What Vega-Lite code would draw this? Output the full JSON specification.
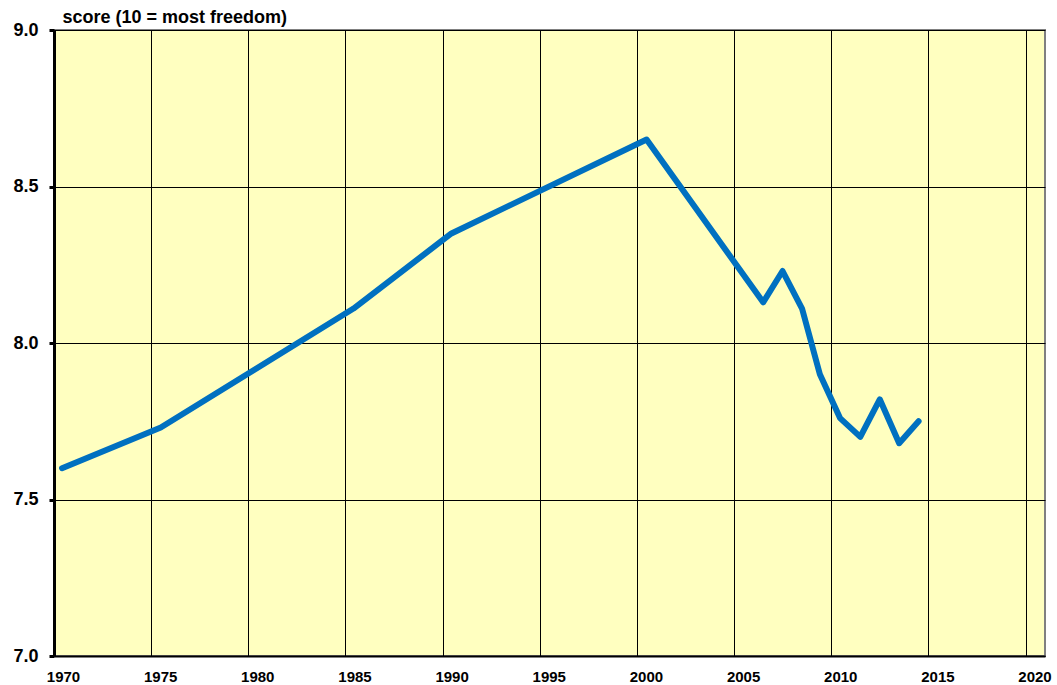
{
  "$schema": "https://vega.github.io/schema/vega-lite/v6.json",
  "width": 991,
  "height": 626,
  "autosize": {"type": "none"},
  "padding": {"left": 54, "top": 30, "right": 12, "bottom": 29},
  "background": "white",
  "config": {
    "view": {"fill": "#FFFFC0", "stroke": "#808080", "strokeWidth": 2},
    "font": "Liberation Sans"
  },
  "data": {
    "values": [
      {"date": "1970-06-01", "score": 7.60},
      {"date": "1975-07-01", "score": 7.73},
      {"date": "1985-06-01", "score": 8.11},
      {"date": "1990-06-15", "score": 8.35},
      {"date": "2000-07-01", "score": 8.65},
      {"date": "2006-07-01", "score": 8.13},
      {"date": "2007-07-01", "score": 8.23},
      {"date": "2008-07-01", "score": 8.11},
      {"date": "2009-06-01", "score": 7.90},
      {"date": "2010-06-15", "score": 7.76},
      {"date": "2011-07-01", "score": 7.70},
      {"date": "2012-07-01", "score": 7.82},
      {"date": "2013-07-01", "score": 7.68},
      {"date": "2014-07-01", "score": 7.75}
    ]
  },
  "mark": {"type": "line", "color": "#0070C0", "strokeWidth": 6, "strokeCap": "round", "strokeJoin": "round"},
  "encoding": {
    "x": {
      "field": "date",
      "type": "temporal",
      "scale": {"type": "utc", "domain": [{"year": 1970, "utc": true}, {"year": 2021, "utc": true}]},
      "axis": {
        "title": null,
        "format": "%Y",
        "values": [
          {"year": 1970, "utc": true}, {"year": 1975, "utc": true}, {"year": 1980, "utc": true},
          {"year": 1985, "utc": true}, {"year": 1990, "utc": true}, {"year": 1995, "utc": true},
          {"year": 2000, "utc": true}, {"year": 2005, "utc": true}, {"year": 2010, "utc": true},
          {"year": 2015, "utc": true}, {"year": 2020, "utc": true}
        ],
        "grid": true,
        "gridColor": "#000000",
        "gridWidth": 1,
        "gridOpacity": 1,
        "ticks": false,
        "domainColor": "#000000",
        "domainWidth": 2,
        "labelFont": "Liberation Sans",
        "labelFontWeight": "bold",
        "labelFontSize": 15,
        "labelColor": "#000000",
        "labelPadding": 13,
        "labelOffset": 9,
        "labelFlush": false
      }
    },
    "y": {
      "field": "score",
      "type": "quantitative",
      "scale": {"domain": [7, 9], "nice": false, "zero": false},
      "axis": {
        "values": [7, 7.5, 8, 8.5, 9],
        "format": ".1f",
        "title": "score (10 = most freedom)",
        "titleAngle": 0,
        "titleAlign": "left",
        "titleBaseline": "alphabetic",
        "titleX": 8,
        "titleY": -8,
        "titleFont": "Liberation Sans",
        "titleFontWeight": "bold",
        "titleFontSize": 18,
        "titleColor": "#000000",
        "grid": true,
        "gridColor": "#000000",
        "gridWidth": 1,
        "gridOpacity": 1,
        "domainColor": "#000000",
        "domainWidth": 3,
        "tickColor": "#000000",
        "tickWidth": 3,
        "tickSize": 5,
        "labelFont": "Liberation Sans",
        "labelFontWeight": "bold",
        "labelFontSize": 18,
        "labelColor": "#000000",
        "labelPadding": 11,
        "labelFlush": false
      }
    }
  }
}
